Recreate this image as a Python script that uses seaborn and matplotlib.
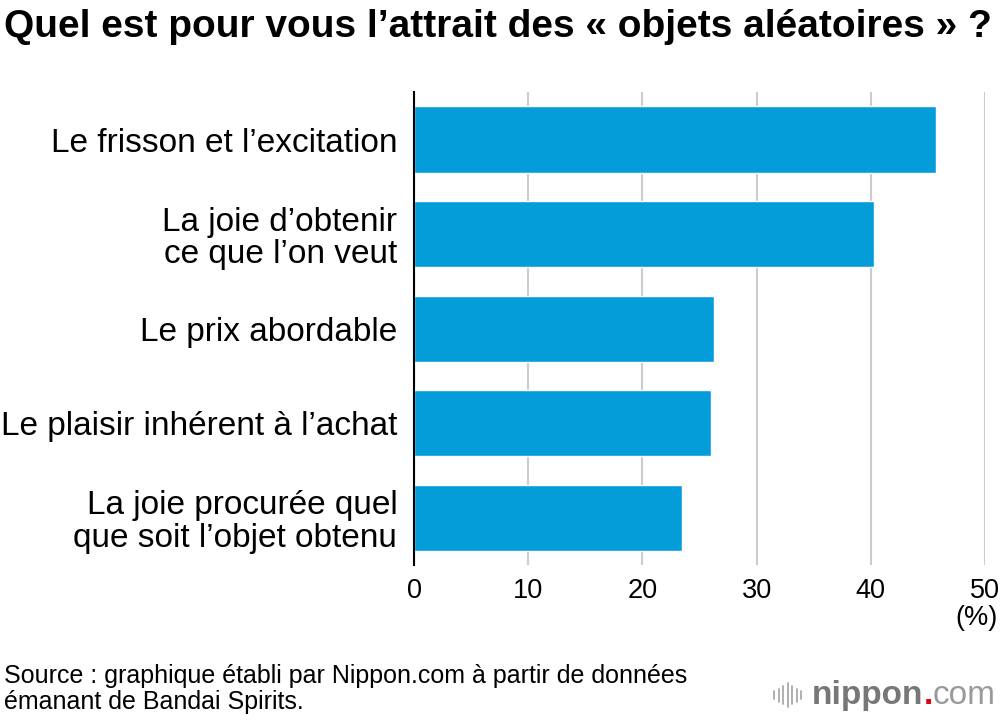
import matplotlib.pyplot as plt
import seaborn as sns
from matplotlib.lines import Line2D

categories = [
    "Le frisson et l’excitation",
    "La joie d’obtenir\nce que l’on veut",
    "Le prix abordable",
    "Le plaisir inhérent à l’achat",
    "La joie procurée quel\nque soit l’objet obtenu",
]
values = [45.7, 40.3, 26.3, 26.0, 23.5]
xticks = [0, 10, 20, 30, 40, 50]

sns.set_theme(style="white")
plt.rcParams["font.family"] = ["Liberation Sans", "DejaVu Sans"]
plt.rcParams["text.color"] = "black"

fig = plt.figure(figsize=(10, 7.24), dpi=100)
ax = fig.add_axes([0.414, 0.2196, 0.571, 0.653])

sns.barplot(x=values, y=categories, orient="h", color="#059dd9",
            saturation=1, width=0.7, ax=ax, zorder=3)

ax.set_xlim(0, 50)
ax.set_ylim(4.5, -0.5)
ax.set_xticks(xticks)
ax.set_xticklabels([str(t) for t in xticks], fontsize=19.5)
ax.set_xlabel("")
ax.set_ylabel("")
ax.grid(axis="x", color="#cccccc", linewidth=1.5, zorder=0)
ax.grid(axis="y", visible=False)
for s in ["top", "right", "bottom"]:
    ax.spines[s].set_visible(False)
ax.spines["left"].set_color("black")
ax.spines["left"].set_linewidth(1.5)
ax.spines["left"].set_zorder(5)
ax.tick_params(axis="x", length=6, color="#cccccc", width=1.5, pad=3, labelcolor="black")
ax.tick_params(axis="y", length=0, pad=12, labelsize=24, labelcolor="black")
for lab in ax.get_yticklabels():
    lab.set_horizontalalignment("right")
    lab.set_linespacing(1.08)

fig.text(0.998, 0.165, "(%)", ha="right", va="top", fontsize=19.5)

fig.text(0.004, 0.988, "Quel est pour vous l’attrait des « objets aléatoires » ?",
         ha="left", va="top", fontsize=28, fontweight="bold")

fig.text(0.004, 0.048, "Source : graphique établi par Nippon.com à partir de données\némanant de Bandai Spirits.",
         ha="left", va="center", fontsize=18, linespacing=1.12)

# logo
renderer = fig.canvas.get_renderer()
x0 = 0.812
parts = [("nippon", "bold", "#777777"), (".", "bold", "#e60012"), ("com", "normal", "#9a9a9a")]
for txt, weight, col in parts:
    t = fig.text(x0, 0.04, txt, ha="left", va="center", fontsize=24,
                 fontweight=weight, color=col)
    bb = t.get_window_extent(renderer=renderer)
    x0 += bb.width / fig.bbox.width
heights = [0.010, 0.018, 0.026, 0.034, 0.026, 0.018, 0.010]
for i, h in enumerate(heights):
    x = 0.774 + i * 0.0045
    fig.add_artist(Line2D([x, x], [0.04 - h / 2, 0.04 + h / 2],
                          color="#aaaaaa", linewidth=1.3, transform=fig.transFigure))

fig.savefig("out.png", dpi=100)
